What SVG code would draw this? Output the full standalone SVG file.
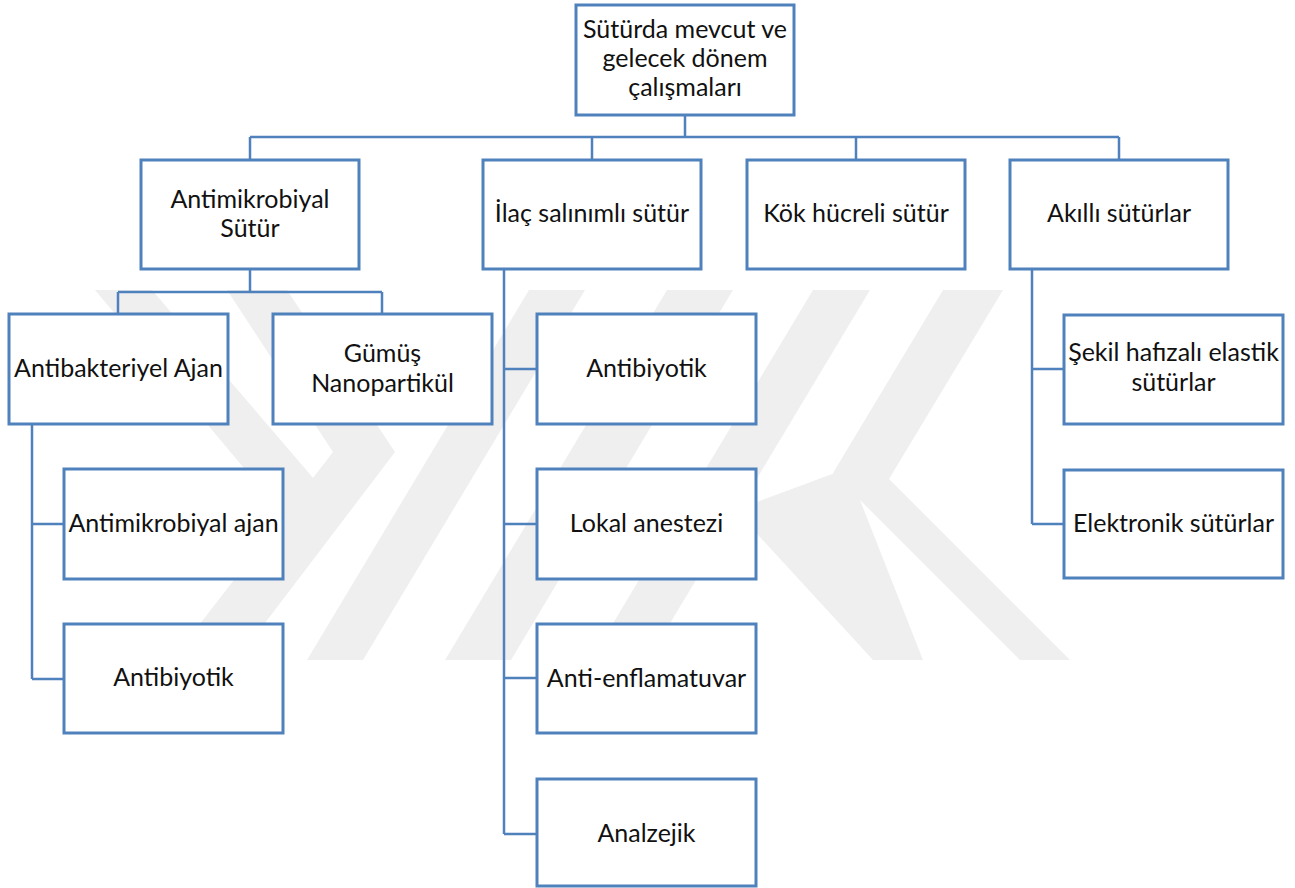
<svg xmlns="http://www.w3.org/2000/svg" width="1295" height="888" viewBox="0 0 1295 888">
<style>
.box{fill:#fff;stroke:#4f81bd;stroke-width:3}
.ln{fill:none;stroke:#4f81bd;stroke-width:2.5}
.t{font-family:Lato,"Noto Sans","Liberation Sans",sans-serif;font-size:25px;fill:#111;text-anchor:middle}
.wm{fill:#efefef}
</style>
<rect x="0" y="0" width="1295" height="888" fill="#fff"/>
<g id="watermark">
<polygon class="wm" points="95,290 152,290 332,500 300,535"/>
<polygon class="wm" points="227,290 287,290 395,452 237,660 172,660 333,452"/>
<polygon class="wm" points="529,290 585,290 363,660 307,660"/>
<polygon class="wm" points="667,290 733,290 511,660 445,660"/>
<polygon class="wm" points="813,290 870,290 648,660 591,660"/>
<polygon class="wm" points="943,290 1003,290 889,479 1070,660 1020,660 833,473"/>
<polygon class="wm" points="735,510 835,473 858,495 923,660 873,660"/>
</g>
<g id="connectors">
<path class="ln" d="M685 115V137M250 137H1119M250 137V160M592 137V160M856 137V160M1119 137V160"/>
<path class="ln" d="M250 269V292M118 292H382M118 292V314M382 292V314"/>
<path class="ln" d="M32 424V679M32 524H64M32 679H64"/>
<path class="ln" d="M504 269V834M504 369H537M504 524H537M504 678H537M504 834H537"/>
<path class="ln" d="M1032 269V524M1032 369H1064M1032 524H1064"/>
</g>
<g id="root"><rect class="box" x="576" y="5" width="218" height="110"/>
<text class="t" x="685" y="38">Sütürda mevcut ve</text><text class="t" x="685" y="67">gelecek dönem</text><text class="t" x="685" y="96">çalışmaları</text></g>
<g id="antimikrobiyal-sutur"><rect class="box" x="141" y="160" width="218" height="109"/>
<text class="t" x="250" y="208">Antimikrobiyal</text><text class="t" x="250" y="237">Sütür</text></g>
<g id="ilac-salinimli"><rect class="box" x="483" y="160" width="218" height="109"/>
<text class="t" x="592" y="222">İlaç salınımlı sütür</text></g>
<g id="kok-hucreli"><rect class="box" x="747" y="160" width="218" height="109"/>
<text class="t" x="856" y="222">Kök hücreli sütür</text></g>
<g id="akilli"><rect class="box" x="1010" y="160" width="218" height="109"/>
<text class="t" x="1119" y="222">Akıllı sütürlar</text></g>
<g id="antibakteriyel"><rect class="box" x="9" y="314" width="219" height="110"/>
<text class="t" x="118.5" y="377">Antibakteriyel Ajan</text></g>
<g id="gumus"><rect class="box" x="273" y="314" width="219" height="110"/>
<text class="t" x="382.5" y="362">Gümüş</text><text class="t" x="382.5" y="392">Nanopartikül</text></g>
<g id="antimikrobiyal-ajan"><rect class="box" x="64" y="469" width="219" height="110"/>
<text class="t" x="173.5" y="532">Antimikrobiyal ajan</text></g>
<g id="antibiyotik-1"><rect class="box" x="64" y="624" width="219" height="109"/>
<text class="t" x="173.5" y="686">Antibiyotik</text></g>
<g id="antibiyotik-2"><rect class="box" x="537" y="314" width="219" height="110"/>
<text class="t" x="646.5" y="377">Antibiyotik</text></g>
<g id="lokal-anestezi"><rect class="box" x="537" y="469" width="219" height="110"/>
<text class="t" x="646.5" y="532">Lokal anestezi</text></g>
<g id="anti-enflamatuvar"><rect class="box" x="537" y="624" width="219" height="109"/>
<text class="t" x="646.5" y="687">Anti-enflamatuvar</text></g>
<g id="analzejik"><rect class="box" x="537" y="779" width="219" height="107"/>
<text class="t" x="646.5" y="842">Analzejik</text></g>
<g id="sekil-hafizali"><rect class="box" x="1064" y="315" width="219" height="109"/>
<text class="t" x="1173.5" y="361">Şekil hafızalı elastik</text><text class="t" x="1173.5" y="391">sütürlar</text></g>
<g id="elektronik"><rect class="box" x="1064" y="470" width="219" height="108"/>
<text class="t" x="1173.5" y="532">Elektronik sütürlar</text></g>
</svg>
